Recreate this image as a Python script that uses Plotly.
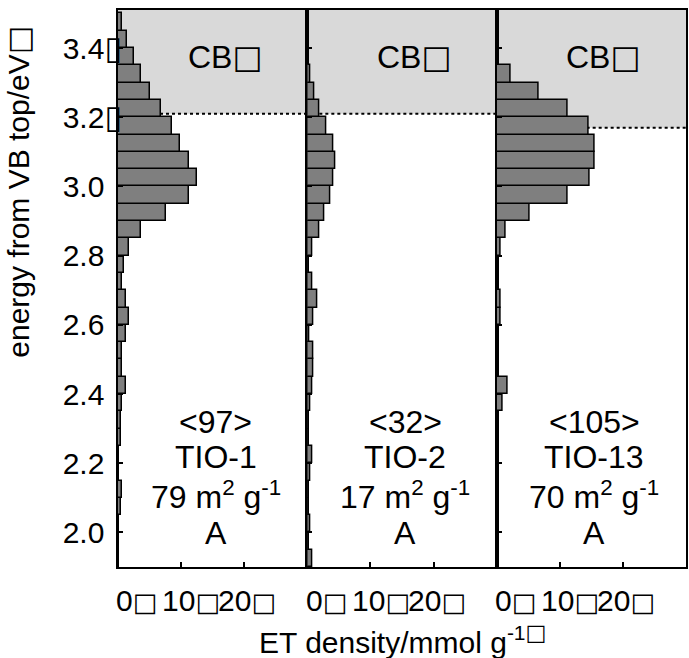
import plotly.graph_objects as go

# Energy bins (centre of each 0.05 eV bin), eV above the valence-band top
energy_centers = [1.925, 1.975, 2.025, 2.075, 2.125, 2.175, 2.225, 2.275, 2.325, 2.375,
                  2.425, 2.475, 2.525, 2.575, 2.625, 2.675, 2.725, 2.775, 2.825, 2.875,
                  2.925, 2.975, 3.025, 3.075, 3.125, 3.175, 3.225, 3.275, 3.325, 3.375,
                  3.425, 3.475]
bin_width = 0.05

samples = ["TIO-1", "TIO-2", "TIO-13"]
total_et = [97, 32, 105]
surface_area = [79, 17, 70]
phase = ["A", "A", "A"]
cb_bottom = [3.21, 3.21, 3.17]

# ET density per bin (umol g-1), listed from low to high energy
et_tio1 = [0.2, 0.2, 0.2, 0.4, 0.7, 0.1, 0.1, 0.5, 0.55, 0.6,
           1.2, 0.65, 0.65, 1.2, 1.75, 1.2, 0.65, 0.95, 1.75, 3.7,
           7.6, 11.3, 12.5, 11.3, 9.8, 8.5, 6.8, 5.1, 3.7, 2.5,
           1.4, 0.6]
et_tio2 = [0.8, 0.2, 0.4, 0.2, 0.2, 0.4, 0.8, 0.2, 0.2, 0.4,
           0.8, 0.9, 0.9, 0.3, 0.9, 1.6, 0.8, 0.2, 0.8, 1.95,
           2.7, 3.6, 4.15, 4.4, 4.15, 3.0, 1.95, 1.05, 0.5, 0.0,
           0.0, 0.0]
et_tio13 = [0.15, 0.15, 0.15, 0.15, 0.15, 0.15, 0.15, 0.15, 0.15, 0.9,
            1.7, 0.15, 0.1, 0.1, 0.6, 0.6, 0.2, 0.2, 0.6, 1.4,
            5.3, 11.2, 14.8, 15.6, 15.6, 14.6, 11.2, 6.7, 2.2, 0.0,
            0.0, 0.0]
et_series = [et_tio1, et_tio2, et_tio13]

y_ticks = [2.0, 2.2, 2.4, 2.6, 2.8, 3.0, 3.2, 3.4]
y_boxed = [3.2, 3.4]
x_ticks = [0, 10, 20]
x_tick_text = ["0", "10", "20"]

FONT = "Liberation Sans, Arial, sans-serif"


def box(size, glyph="\u25a1", visible=True):
    color = "" if visible else "color:rgba(0,0,0,0);"
    return ("<span style='font-family:DejaVu Sans;font-size:%dpx;%s'>%s</span>"
            % (size, color, glyph))


y_range = [1.9, 3.51]
x_range = [0, 30]

fig = go.Figure()

for i, vals in enumerate(et_series):
    n = "" if i == 0 else str(i + 1)
    fig.add_trace(go.Bar(
        x=vals, y=energy_centers, orientation="h", width=bin_width,
        marker=dict(color="#7f7f7f", line=dict(color="black", width=1.5)),
        xaxis="x" + n, yaxis="y" + n, showlegend=False,
    ))

    # conduction band region
    fig.add_shape(type="rect", xref="x" + n + " domain", yref="y" + n,
                  x0=0, x1=1, y0=cb_bottom[i], y1=y_range[1],
                  fillcolor="#d9d9d9", line_width=0, layer="below")
    fig.add_shape(type="line", xref="x" + n + " domain", yref="y" + n,
                  x0=0, x1=1, y0=cb_bottom[i], y1=cb_bottom[i],
                  line=dict(color="black", width=2, dash="dot"), layer="below")

    fig.add_annotation(xref="x" + n, yref="y" + n, x=17, y=3.373,
                       text="CB" + box(32), showarrow=False,
                       font=dict(size=32, color="black", family=FONT))
    lines = ["&lt;%d&gt;" % total_et[i], samples[i],
             "%d m<sup>2</sup> g<sup>-1</sup>" % surface_area[i], phase[i]]
    for txt, yy in zip(lines, [2.32, 2.219, 2.109, 1.999]):
        fig.add_annotation(xref="x" + n, yref="y" + n, x=15.5, y=yy,
                           text=txt, showarrow=False,
                           font=dict(size=32, color="black", family=FONT))
    for tv, tt, sh in zip(x_ticks, x_tick_text, [3.0, 1.6, 0.5]):
        fig.add_annotation(xref="x" + n, yref="paper", x=tv + sh, y=-0.061,
                           text=tt + box(26), showarrow=False, yanchor="middle",
                           font=dict(size=30, color="black", family=FONT))

axis_common = dict(showline=True, linecolor="black", linewidth=2, mirror=True,
                   ticks="inside", tickcolor="black", tickwidth=1.5, ticklen=5,
                   showgrid=False, zeroline=False)

domains = [[0, 1 / 3], [1 / 3, 2 / 3], [2 / 3, 1]]
y_text = [("%.1f" % v) + box(32, "\u25af", v in y_boxed) for v in y_ticks]
for i in range(3):
    n = "" if i == 0 else str(i + 1)
    fig.layout["xaxis" + n] = dict(axis_common, domain=domains[i], range=x_range,
                                   tickvals=x_ticks, showticklabels=False,
                                   anchor="y" + n)
    ydict = dict(axis_common, range=y_range, tickvals=y_ticks,
                 anchor="x" + n)
    if i == 0:
        ydict.update(ticktext=y_text, ticklabelstandoff=-12,
                     tickfont=dict(size=30, color="black", family=FONT))
    else:
        ydict.update(showticklabels=False, matches="y")
    fig.layout["yaxis" + n] = ydict

fig.add_annotation(xref="paper", yref="paper", x=-0.175, y=0.673,
                   xanchor="center", yanchor="middle",
                   text="energy from VB top/eV" + box(30), textangle=-90,
                   showarrow=False,
                   font=dict(size=30, color="black", family=FONT))
fig.add_annotation(xref="paper", yref="paper", x=0.5, y=-0.131,
                   text="ET density/mmol g<sup>-1" + box(22) + "</sup>",
                   showarrow=False, yanchor="middle",
                   font=dict(size=30, color="black", family=FONT))

fig.update_layout(width=689, height=658, bargap=0,
                  margin=dict(l=118, r=1, t=10, b=91),
                  paper_bgcolor="white", plot_bgcolor="white",
                  font=dict(family=FONT, color="black"))

fig.write_html("out.html")
